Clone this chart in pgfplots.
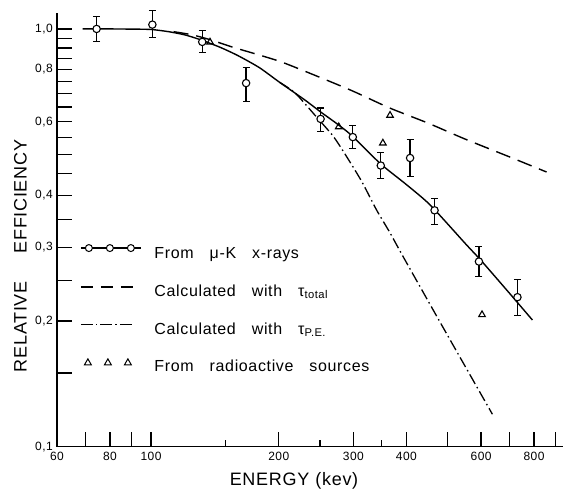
\documentclass[border=0pt]{standalone}
\usepackage{pgfplots}
\usepackage{pgfplotstable}
\pgfplotsset{compat=1.18}
\usepackage{fontspec}
\setmainfont{Liberation Sans}
\newfontfamily\lfont{Liberation Sans}[LetterSpace=4]

\pgfplotstableread{
x y ep em
74.4 1.000 0.069 0.068
100.7 1.024 0.084 0.071
132 0.931 0.059 0.051
167.5 0.742 0.067 0.071
251 0.609 0.038 0.041
299 0.551 0.036 0.034
348 0.471 0.035 0.033
408 0.491 0.052 0.047
466 0.368 0.024 0.027
593 0.2775 0.024 0.022
731 0.228 0.023 0.022
}\muk

\pgfplotstableread{
x y
137.7 0.930
277 0.583
352 0.533
366 0.621
603 0.207
}\radio

\begin{document}
\begin{tikzpicture}
\useasboundingbox (-57bp,-42.3bp) rectangle (509bp,446.7bp);
\begin{axis}[
  at={(0,0)}, anchor=south west,
  scale only axis, width=506bp, height=433.4bp,
  xmode=log, ymode=log,
  xmin=60, xmax=936, ymin=0.1, ymax=1.09,
  clip=false,
  axis x line*=bottom, axis y line*=left,
  axis line style={line width=1.4bp, -},
  major tick length=0pt, minor tick length=0pt,
  tick style={draw=none},
  xtick={60,80,100,200,300,400,600,800},
  xticklabels={60,80,100,200,300,400,600,800},
  ytick={0.1,0.2,0.3,0.4,0.6,0.8,1.0},
  yticklabels={{0,1},{0,2},{0,3},{0,4},{0,6},{0,8},{1,0}},
  ticklabel style={font=\lfont\fontsize{12bp}{12bp}\selectfont},
  yticklabel style={inner sep=0pt, xshift=-4bp},
  xticklabel style={inner sep=0pt, yshift=-5bp},
  legend style={draw=none, fill=none, at={(axis description cs:0.0455,0.4715)}, anchor=north west,
    inner sep=0pt, row sep=17.8bp, column sep=13bp,
    nodes={inner sep=0pt, text height=12bp, text depth=4bp, font=\lfont\fontsize{16bp}{16bp}\selectfont}},
  legend cell align=left,
]
% tick marks, pointing into the plot
\pgfplotsinvokeforeach{0.15,0.2,0.25,0.3,0.35,0.4,0.45,0.5,0.55,0.6,0.65,0.7,0.75,0.8,0.85,0.9,0.95,1.0}{
  \draw[black, line width=1.3bp] (axis cs:60,#1) -- ++(15bp,0bp);}
\pgfplotsinvokeforeach{70,80,90,100,200,300,400,500,600,700,800,900}{
  \draw[black, line width=1.3bp] (axis cs:#1,0.1) -- ++(0bp,15bp);}
\pgfplotsinvokeforeach{150,250,350}{
  \draw[black, line width=1.3bp] (axis cs:#1,0.1) -- ++(0bp,7bp);}
% solid curve (fit to mu-K data)
\addplot[forget plot, line width=1.4bp, smooth, tension=0.4] coordinates {
(69,1.0)(80,1.0)(90,0.999)(100,0.997)(110,0.985)(120,0.968)(130,0.944)(145,0.905)(160,0.864)(180,0.808)(201,0.745)(230,0.677)(251,0.633)(275,0.592)(297,0.556)(348,0.475)(400,0.424)(455,0.379)(553,0.305)(600,0.279)(700,0.233)(793,0.201)};
% dashed: tau total
\addplot[forget plot, line width=1.4bp, smooth, tension=0.4, dash pattern=on 15bp off 8bp] coordinates {
(113,0.985)(125,0.968)(138,0.942)(156,0.904)(180,0.866)(204,0.832)(250,0.766)(300,0.709)(365,0.647)(450,0.595)(550,0.545)(700,0.494)(856,0.4545)};
% dash-dot: tau P.E.
\addplot[forget plot, line width=1.3bp, smooth, tension=0.4, dash pattern=on 11bp off 3.5bp on 1.5bp off 3.5bp] coordinates {
(201,0.745)(218.5,0.703)(245,0.617)(269,0.553)(289,0.495)(314,0.431)(340,0.369)(366,0.325)(393,0.285)(488,0.193)(638,0.1196)};
% mu-K x-ray data
\addplot[forget plot, only marks, mark=*, mark size=3.7bp,
  mark options={fill=white, draw=black, line width=1.1bp},
  error bars/.cd, y dir=both, y explicit, error mark=-,
  error bar style={line width=1.2bp, black},
  error mark options={mark size=3.5bp, line width=1.2bp, black, rotate=90}]
  table[x=x, y=y, y error plus=ep, y error minus=em] {\muk};
% radioactive sources
\addplot[forget plot, only marks, mark=triangle, mark size=3.8bp, mark options={line width=1.1bp, black}]
  table[x=x, y=y] {\radio};

\addlegendimage{legend image code/.code={
  \path[draw=none, fill=none] (0bp,-4bp) rectangle (60bp,12bp);
  \draw[black, solid, line width=1.2bp] (0bp,6.5bp) -- (60bp,6.5bp);
  \foreach \p in {8,29,50} {\draw[black, solid, line width=1bp, fill=white] (\p bp,6.5bp) circle[radius=3.5bp];}
}}
\addlegendentry{From\hspace{16bp}μ-K\hspace{16bp}x-rays}
\addlegendimage{legend image code/.code={
  \path[draw=none, fill=none] (0bp,-4bp) rectangle (60bp,12bp);
  \draw[black, line width=1.3bp, dash pattern=on 12bp off 8bp] (0bp,5.5bp) -- (52bp,5.5bp);
}}
\addlegendentry{Calculated\hspace{16bp}with\hspace{16bp}τ\textsubscript{total}}
\addlegendimage{legend image code/.code={
  \path[draw=none, fill=none] (0bp,-4bp) rectangle (60bp,12bp);
  \draw[black, line width=1.3bp, dash pattern=on 12bp off 3bp on 1.5bp off 3bp] (0bp,5.5bp) -- (52bp,5.5bp);
}}
\addlegendentry{Calculated\hspace{16bp}with\hspace{16bp}τ\textsubscript{P.E.}}
\addlegendimage{legend image code/.code={
  \path[draw=none, fill=none] (0bp,-4bp) rectangle (60bp,12bp);
  \foreach \p in {7,27,47} {\draw[black, solid, line width=1bp, shift={(\p bp,5.5bp)}] (-3.5bp,-2.5bp) -- (3.5bp,-2.5bp) -- (0bp,3.6bp) -- cycle;}
}}
\addlegendentry{From\hspace{16bp}radioactive\hspace{16bp}sources}
\end{axis}
\node[anchor=base, font=\lfont\fontsize{18bp}{18bp}\selectfont] at (237bp,-38.3bp) {ENERGY\hspace{6bp}(kev)};
\node[anchor=base, rotate=90, font=\lfont\fontsize{18bp}{18bp}\selectfont] at (-30.3bp,190.7bp) {RELATIVE\hspace{28bp}EFFICIENCY};
\end{tikzpicture}
\end{document}
